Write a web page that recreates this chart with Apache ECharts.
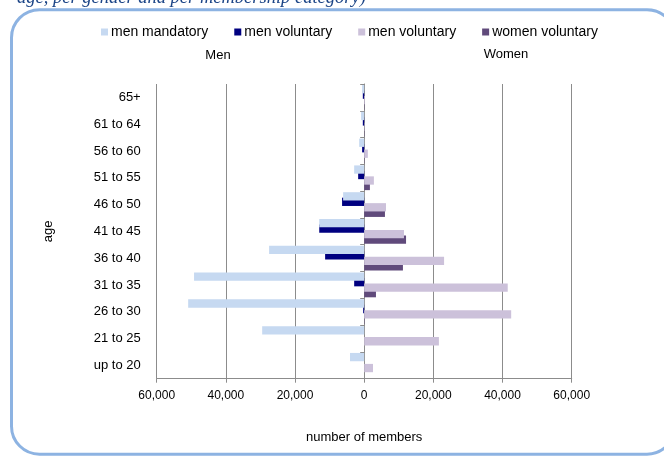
<!DOCTYPE html>
<html>
<head>
<meta charset="utf-8">
<script src="https://cdn.jsdelivr.net/npm/echarts@6/dist/echarts.min.js"></script>
<style>html,body{margin:0;padding:0;background:#fff;}#c{width:664px;height:457px;}</style>
</head>
<body>
<div id="c"></div>
<script>
// ---- data ----
const categories = ['up to 20','21 to 25','26 to 30','31 to 35','36 to 40','41 to 45','46 to 50','51 to 55','56 to 60','61 to 64','65+'];
const menMandatory   = [4100, 29500, 50900, 49200, 27500, 13000, 6100, 2900, 1450, 900, 600];
const menVoluntary   = [0, 0, 300, 2900, 11300, 13000, 6400, 1750, 600, 400, 400];
const womenMandatory = [2550, 21600, 42500, 41500, 23100, 11500, 6300, 2800, 1050, 100, 200];
const womenVoluntary = [0, 0, 100, 3400, 11200, 12100, 6000, 1650, 100, 100, 100];
const seriesKeys   = ['s1','s2','s3','s4'];
const legendLabels = ['men mandatory','men voluntary','men voluntary','women voluntary'];
const xTicks = { min: -60000, max: 60000, interval: 20000 };

const FONT = '"Liberation Sans", Arial, sans-serif';
const GRID = '#8c8c8c';
const colors = ['#c6d9f1', '#000080', '#ccc1da', '#604a7b'];
const values = [menMandatory.map(v => -v), menVoluntary.map(v => -v), womenMandatory, womenVoluntary];
const zs = [4, 3, 4, 3];

const chart = echarts.init(document.getElementById('c'), null, {renderer: 'canvas'});
chart.setOption({
  animation: false,
  backgroundColor: '#fff',
  textStyle: { fontFamily: FONT },
  legend: {
    data: seriesKeys,
    formatter: name => legendLabels[seriesKeys.indexOf(name)],
    left: 96, top: 20,
    itemWidth: 7, itemHeight: 7, itemGap: 26,
    icon: 'rect',
    textStyle: { fontFamily: FONT, fontSize: 14, color: '#000', padding: [0,0,0,-2] }
  },
  grid: { left: 156.7, right: 92.3, top: 84, bottom: 78.3, containLabel: false, outerBoundsMode: 'none' },
  xAxis: {
    type: 'value', min: xTicks.min, max: xTicks.max, interval: xTicks.interval,
    name: 'number of members', nameLocation: 'middle', nameGap: 52,
    nameTextStyle: { fontFamily: FONT, fontSize: 13, color: '#000' },
    axisLine: { show: true, lineStyle: { color: GRID, width: 1 } },
    axisTick: { show: true, length: 4, lineStyle: { color: GRID } },
    axisLabel: { fontFamily: FONT, fontSize: 12, color: '#000', margin: 11,
      formatter: v => Math.abs(v).toLocaleString('en-US') },
    splitLine: { show: true, lineStyle: { color: GRID, width: 1 } }
  },
  yAxis: [{
    type: 'category', data: categories, position: 'left',
    name: 'age', nameLocation: 'middle', nameRotate: 90, nameGap: 102,
    nameTextStyle: { fontFamily: FONT, fontSize: 13, color: '#000' },
    axisLine: { show: false, onZero: false },
    axisTick: { show: false },
    axisLabel: { fontFamily: FONT, fontSize: 13, color: '#000', margin: 16 },
    splitLine: { show: false }
  }, {
    type: 'category', data: categories, position: 'left',
    axisLine: { show: true, onZero: true, lineStyle: { color: GRID, width: 1 } },
    axisTick: { show: true, length: 4, lineStyle: { color: GRID } },
    axisLabel: { show: false },
    splitLine: { show: false }
  }],
  series: seriesKeys.map((k, i) => ({
    name: k, type: 'bar', data: values[i], yAxisIndex: 0,
    barWidth: 8.3, barGap: '-34%', z: zs[i],
    itemStyle: { color: colors[i] }
  })),
  graphic: [
    { type: 'rect', silent: true, z: 100,
      shape: { x: 11.5, y: 9.7, width: 663.5, height: 444.5, r: 28 },
      style: { fill: 'none', stroke: '#8db3e2', lineWidth: 3 } },
    { type: 'text', silent: true,
      style: { text: 'age, per gender and per membership category)', x: 17, y: -2,
        verticalAlign: 'middle', align: 'left',
        font: 'italic 18.5px "Liberation Serif", "Times New Roman", serif', fill: '#1c4587' } },
    { type: 'text', silent: true,
      style: { text: 'Men', x: 218, y: 55, align: 'center', verticalAlign: 'middle',
        font: '13px ' + FONT, fill: '#000' } },
    { type: 'text', silent: true,
      style: { text: 'Women', x: 506, y: 54, align: 'center', verticalAlign: 'middle',
        font: '13px ' + FONT, fill: '#000' } }
  ]
});
</script>
</body>
</html>
